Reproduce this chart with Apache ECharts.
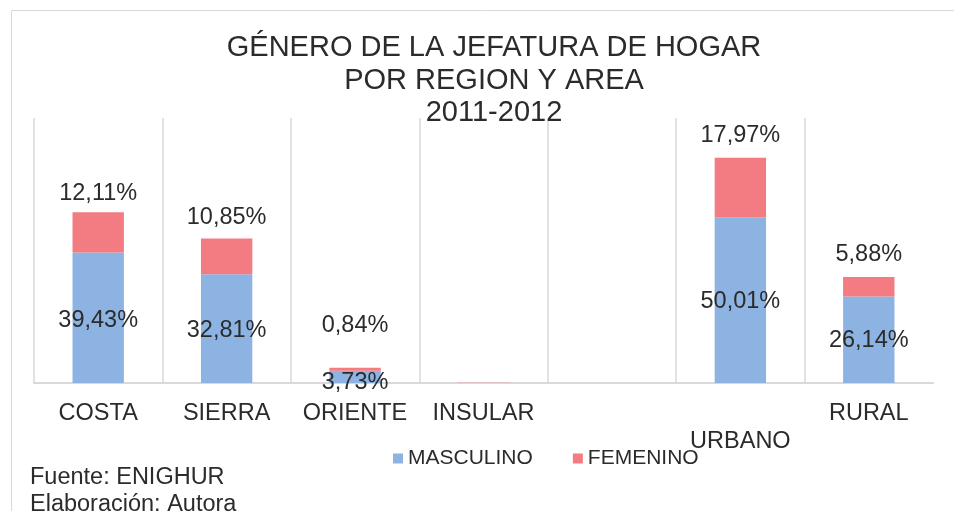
<!DOCTYPE html>
<html>
<head>
<meta charset="utf-8">
<title>echarts</title>
<style type="text/css">
  html, body { height: 100%; width: 100%; margin: 0; padding: 0; overflow: hidden; background: #fff; }
  #main { height: 511px; width: 954px; }
</style>
<script src="https://cdn.jsdelivr.net/npm/echarts@6/dist/echarts.min.js"></script>
</head>
<body>
<div id="main"></div>
<script>
  var categories = ['COSTA', 'SIERRA', 'ORIENTE', 'INSULAR', '', 'URBANO', 'RURAL'];
  var masculino = [39.43, 32.81, 3.73, 0.03, null, 50.01, 26.14];
  var femenino = [12.11, 10.85, 0.84, 0.06, null, 17.97, 5.88];

  // per-bar label tweaks (Excel moved a couple of them)
  var femDist = [7, 9, 30, 8, 8, 10, 10];
  var mascOffset = [[0, 3], [0, 2], [0, 6], [0, 0], [0, 0], [0, 1], [0, 1]];

  var font = 'Liberation Sans, Arial, sans-serif';
  var txt = '#2b2b2b';

  function pct(p) {
    if (p.value == null || p.value < 0.5) return '';
    return p.value.toFixed(2).replace('.', ',') + '%';
  }

  var chart = echarts.init(document.getElementById('main'));
  chart.setOption({
    animation: false,
    title: {
      text: 'GÉNERO DE LA JEFATURA DE HOGAR\nPOR REGION Y AREA\n2011-2012',
      left: 489, top: 27, textAlign: 'center',
      textStyle: { fontFamily: font, fontSize: 29, fontWeight: 'normal', color: txt, lineHeight: 32.5 }
    },
    legend: {
      left: 388, top: 443,
      icon: 'rect', itemWidth: 10, itemHeight: 10, itemGap: 40,
      textStyle: { fontFamily: font, fontSize: 21, color: txt }
    },
    graphic: [
      { type: 'rect', left: 9, top: 8, shape: { width: 980, height: 540 }, style: { fill: 'none', stroke: '#d9d9d9', lineWidth: 1 }, silent: true },
      { type: 'text', left: 30, top: 466, style: { text: 'Fuente: ENIGHUR', font: '23.5px ' + font, fill: txt } },
      { type: 'text', left: 30, top: 493, style: { text: 'Elaboración: Autora', font: '23.5px ' + font, fill: txt } }
    ],
    grid: { left: 34, right: 21, top: 118, bottom: 128, containLabel: false },
    xAxis: {
      type: 'category',
      data: categories,
      axisTick: { show: false },
      axisLine: { lineStyle: { color: '#d9d9d9', width: 2 } },
      splitLine: { show: true, showMaxLine: false, lineStyle: { color: '#d9d9d9', width: 1.5 } },
      axisLabel: {
        margin: 19, interval: 0,
        fontFamily: font, fontSize: 23.5, color: txt,
        formatter: function (v) { return v === 'URBANO' ? '{low|' + v + '}' : v; },
        rich: { low: { fontFamily: font, fontSize: 23.5, color: txt, padding: [28, 0, 0, 0] } }
      }
    },
    yAxis: {
      type: 'value', min: 0, max: 80,
      show: false, splitLine: { show: false }
    },
    series: [
      {
        name: 'MASCULINO', type: 'bar', stack: 'g', barWidth: '40%',
        itemStyle: { color: '#8db3e2' },
        data: masculino.map(function (v, i) {
          return { value: v, label: { offset: mascOffset[i] } };
        }),
        label: { show: true, position: 'inside', formatter: pct, fontFamily: font, fontSize: 23.5, color: txt }
      },
      {
        name: 'FEMENINO', type: 'bar', stack: 'g', barWidth: '40%',
        itemStyle: { color: '#f37b82' },
        data: femenino.map(function (v, i) {
          return { value: v, label: { distance: femDist[i] } };
        }),
        label: { show: true, position: 'top', formatter: pct, fontFamily: font, fontSize: 23.5, color: txt }
      }
    ]
  });
</script>
</body>
</html>
